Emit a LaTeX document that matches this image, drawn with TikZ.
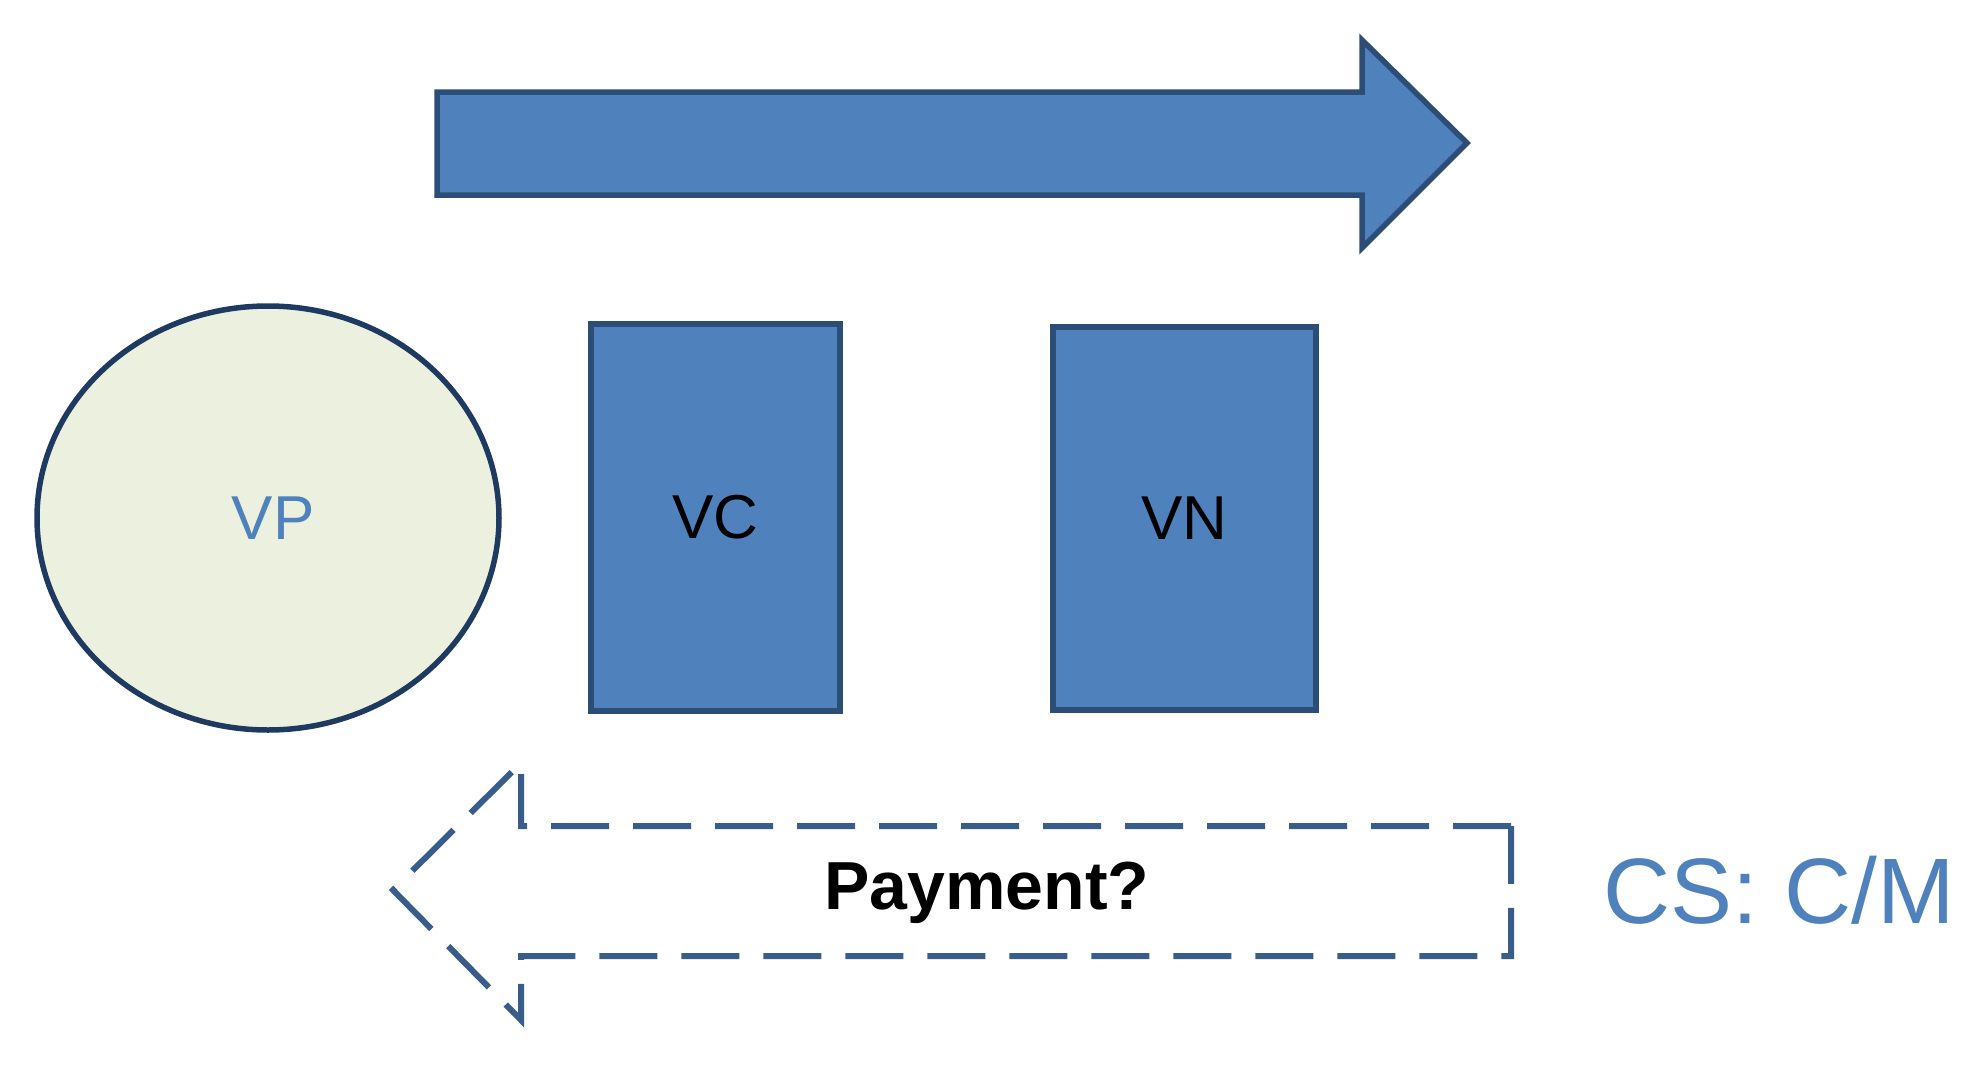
\documentclass[tikz,border=0pt]{standalone}
\usepackage{fontspec}
\setmainfont{Liberation Sans}
\usetikzlibrary{shapes.geometric}
\definecolor{boxblue}{HTML}{4F81BD}
\definecolor{edgeblue}{HTML}{2C4D75}
\definecolor{dashblue}{HTML}{385D8A}
\definecolor{palegreen}{HTML}{EBF1DE}
\definecolor{navy}{HTML}{1F3A60}
\tikzset{
  blockbox/.style={draw=edgeblue, fill=boxblue, line width=5.5pt, minimum width=249pt, minimum height=387pt, font=\fontsize{62}{70}\selectfont, text=black},
  lbl/.style={inner sep=0pt}
}
\begin{document}
\begin{tikzpicture}[x=1pt,y=-1pt]
\useasboundingbox (0,0) rectangle (1971,1074);
% big arrow
\draw[draw=edgeblue, fill=boxblue, line width=5.5pt, line join=miter]
  (437,92) -- (1362,92) -- (1362,40) -- (1467,143) -- (1362,248) -- (1362,195) -- (437,195) -- cycle;
% VP ellipse
\node[ellipse, draw=navy, fill=palegreen, line width=5.5pt, minimum width=462pt, minimum height=424pt, inner sep=0pt] (vp) at (268,518) {};
\node[lbl, text=boxblue, font=\fontsize{62}{70}\selectfont] (vpt) at (273,518) {VP};
% VC, VN
\node[blockbox] (vc) at (715.5,517.5) {VC};
\node[blockbox, minimum width=263pt, minimum height=383pt] (vn) at (1184.5,518.5) {VN};
% dashed arrow
\draw[draw=dashblue, line width=6pt, dash pattern=on 58pt off 24pt]
  (1511,826) -- (521,826) -- (521,763) -- (393,890) -- (521,1020) -- (521,956) -- (1511,956) -- cycle;
\node[lbl, font=\bfseries\fontsize{68}{72}\selectfont] (pay) at (987,893) {Payment?};
\node[lbl, text=boxblue, font=\fontsize{93}{100}\selectfont, anchor=west] (cs) at (1603,890) {CS: C/M};
\end{tikzpicture}
\end{document}
